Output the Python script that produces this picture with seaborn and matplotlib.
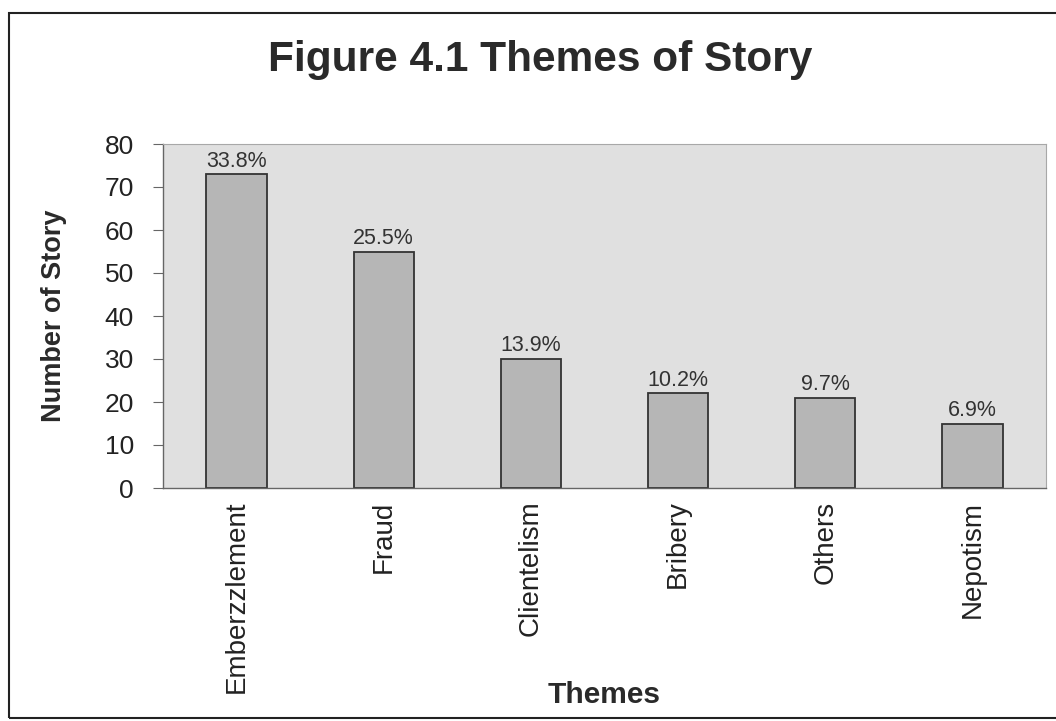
import matplotlib
matplotlib.use("Agg")
import matplotlib.pyplot as plt
import seaborn as sns
import numpy as np
import pandas as pd
from matplotlib.patches import Rectangle

categories = ["Emberzzlement", "Fraud", "Clientelism", "Bribery", "Others", "Nepotism"]
counts = [73, 55, 30, 22, 21, 15]
pct_labels = ["33.8%", "25.5%", "13.9%", "10.2%", "9.7%", "6.9%"]
yticks = [0, 10, 20, 30, 40, 50, 60, 70, 80]

sns.set_theme(style="white")
plt.rcParams['font.family'] = ['Liberation Sans', 'DejaVu Sans']

df = pd.DataFrame({"Theme": categories, "Count": counts})

W, H = 1056, 721
fig = plt.figure(figsize=(W / 100, H / 100), dpi=100)
ax = fig.add_axes([163 / W, 1 - 488 / H, (1046 - 163) / W, (488 - 144) / H])
ax.set_facecolor("#e0e0e0")

sns.barplot(data=df, x="Theme", y="Count", color="#b6b6b6", edgecolor="#333333",
            linewidth=1.3, width=0.41, saturation=1, ax=ax)

for i, (v, lab) in enumerate(zip(counts, pct_labels)):
    ax.text(i, v + 0.6, lab, ha="center", va="bottom", fontsize=15.5, color="#333333")

ax.set_ylim(0, 80)
ax.set_xlim(-0.5, len(categories) - 0.5)
ax.set_yticks(yticks)
ax.set_yticklabels([str(t) for t in yticks], fontsize=19, color="#222222")
ax.set_xticks(range(len(categories)))
ax.set_xticklabels(categories, rotation=90, fontsize=20, color="#222222")
ax.set_xticks(np.arange(-0.5, len(categories), 1.0), minor=True)
ax.tick_params(axis="x", which="major", length=0, pad=9)
ax.tick_params(axis="x", which="minor", length=6, width=0.8, color="#666666", direction="out")
ax.tick_params(axis="y", which="major", length=7, width=0.8, color="#666666",
               direction="out", left=True, pad=14)

ax.set_xlabel("")
ax.set_ylabel("")

for side in ["top", "right"]:
    ax.spines[side].set_color("#a8a8a8")
    ax.spines[side].set_linewidth(0.8)
for side in ["left", "bottom"]:
    ax.spines[side].set_color("#666666")
    ax.spines[side].set_linewidth(1.0)

fig.text(54 / W, 1 - 316 / H, "Number of Story", rotation=90, ha="center", va="center",
         fontsize=19.5, fontweight="bold", color="#2a2a2a")
fig.text(604 / W, 1 - 695 / H, "Themes", ha="center", va="center",
         fontsize=21.5, fontweight="bold", color="#2a2a2a")
fig.text(540 / W, 1 - 60 / H, "Figure 4.1 Themes of Story", ha="center", va="center",
         fontsize=30.5, fontweight="bold", color="#2a2a2a")

fig.patches.append(Rectangle((9 / W, 3 / H), 1.1, 1 - 16 / H, transform=fig.transFigure,
                             fill=False, edgecolor="#222222", linewidth=1.5, zorder=0))

fig.savefig("out.png", dpi=100)
